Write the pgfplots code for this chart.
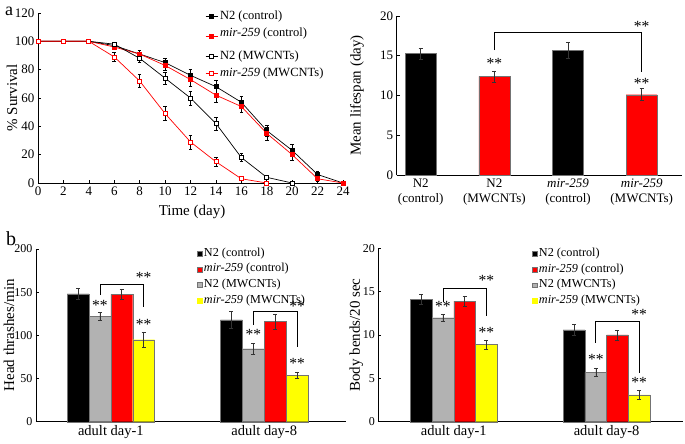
\documentclass[border=0pt]{standalone}
\usepackage{pgfplots}
\pgfplotsset{compat=1.18}
\usepackage{fontspec}
\setmainfont{Liberation Serif}

\definecolor{barred}{RGB}{255,0,0}
\definecolor{bargray}{RGB}{178,178,178}
\definecolor{baryel}{RGB}{255,255,0}
\definecolor{sig}{RGB}{70,70,70}

\pgfplotsset{
  panel/.style={
    scale only axis, anchor=south west,
    axis lines*=left, tick align=inside,
    major tick length=3pt,
    axis line style={black, line width=0.6pt},
    tick style={black, line width=0.6pt},
    ticklabel style={font=\fontsize{13}{13}\selectfont},
    /pgf/number format/assume math mode=true,
    label style={font=\fontsize{15}{15}\selectfont},
    clip=false,
  },
  surv/.style={line width=0.7pt, mark=square*, mark size=2pt,
    error bars/y dir=both, error bars/y explicit,
    error bars/error bar style={black, line width=0.5pt},
    error bars/error mark options={rotate=90, mark size=1.8pt, black, line width=0.5pt}},
  bar/.style={ybar, bar shift=0pt, draw=black!55, line width=0.3pt, forget plot,
    error bars/y dir=both, error bars/y explicit,
    error bars/error bar style={black!80, line width=0.5pt},
    error bars/error mark options={rotate=90, mark size=2pt, black!80, line width=0.5pt}},
  sqlegend/.style={
    legend image code/.code={\draw[##1] (0pt,-2.4pt) rectangle (4.8pt,2.4pt);},
    legend style={draw=none, fill=none, inner sep=0pt,
      font=\fontsize{12.2}{12.2}\selectfont, row sep=0pt,
      nodes={text height=8.3pt, text depth=3.3pt},
      /tikz/every even column/.append style={column sep=2pt}},
    legend cell align=left},
  linelegend/.style={
    legend image code/.code={\draw[mark repeat=2, mark phase=2, ##1]
      plot coordinates {(0pt,0pt) (6pt,0pt) (12pt,0pt)};}},
}
\tikzset{sig/.append style={inner sep=0.5pt}}
\newcommand{\stars}{\fontsize{15.5}{15.5}\selectfont **}

\begin{document}
\begin{tikzpicture}[x=1pt,y=1pt]
\path[use as bounding box] (0,0) rectangle (685,444);

\node[font=\fontsize{18}{18}\selectfont, anchor=center] at (9,433) {a};
\node[font=\fontsize{20}{20}\selectfont, anchor=center] at (11,205) {b};

% ---------- a: survival ----------
\begin{axis}[panel, linelegend, at={(38pt,261pt)}, width=305pt, height=170pt,
  xmin=0, xmax=24, ymin=0, ymax=120,
  xtick={0,2,...,24}, ytick={0,20,...,120},
  xlabel={Time (day)}, ylabel={\% Survival},
  ylabel style={at={(axis description cs:-0.085,0.5)}, anchor=center},
  xlabel style={at={(axis description cs:0.505,-0.17)}, anchor=center},
  legend style={at={(0.548,1.03)}, anchor=north west, draw=none, fill=none,
    inner sep=0pt, font=\fontsize{12.5}{12.5}\selectfont, row sep=0pt,
    nodes={text height=9.4pt, text depth=3.8pt},
    /tikz/every even column/.append style={column sep=3pt}},
  legend cell align=left,
]
\addplot[surv, black, mark options={fill=black}] coordinates {
 (0,100) +- (0,0) (2,100) +- (0,0) (4,100) +- (0,0) (6,97) +- (0,1.5)
 (8,91) +- (0,2.5) (10,85) +- (0,3) (12,76) +- (0,4) (14,68) +- (0,4.5)
 (16,57) +- (0,4) (18,37) +- (0,4) (20,23) +- (0,4) (22,6) +- (0,2) (24,0) +- (0,0)};
\addlegendentry{N2 (control)}
\addplot[surv, barred, mark options={fill=barred}] coordinates {
 (0,100) +- (0,0) (2,100) +- (0,0) (4,100) +- (0,0) (6,96) +- (0,1.5)
 (8,91) +- (0,2.5) (10,83) +- (0,3.5) (12,73) +- (0,4.5) (14,62) +- (0,5)
 (16,54) +- (0,4) (18,35) +- (0,4.5) (20,20) +- (0,4) (22,3) +- (0,1.5) (24,0) +- (0,0)};
\addlegendentry[text depth=9pt]{\textit{mir-259} (control)}
\addplot[surv, black, mark options={fill=white}] coordinates {
 (0,100) +- (0,0) (2,100) +- (0,0) (4,100) +- (0,0) (6,98) +- (0,1)
 (8,88) +- (0,2.5) (10,74) +- (0,4.5) (12,60) +- (0,5) (14,42) +- (0,4.5)
 (16,18) +- (0,3) (18,4) +- (0,1) (20,0) +- (0,0)};
\addlegendentry{N2 (MWCNTs)}
\addplot[surv, barred, mark options={fill=white}] coordinates {
 (0,100) +- (0,0) (2,100) +- (0,0) (4,100) +- (0,0) (6,89) +- (0,3)
 (8,72) +- (0,4.5) (10,49) +- (0,5) (12,29) +- (0,5) (14,15) +- (0,3.5)
 (16,3) +- (0,1) (18,0) +- (0,0)};
\addlegendentry{\textit{mir-259} (MWCNTs)}
\end{axis}

% ---------- a: mean lifespan ----------
\begin{axis}[panel, at={(396.7pt,269pt)}, width=285pt, height=159pt,
  xmin=0.674, xmax=4.543, ymin=0, ymax=20,
  ytick={0,5,...,20}, xtick={1,2,3,4},
  xticklabels={{N2\\(control)},{N2\\(MWCNTs)},{\textit{mir-259}\\(control)},{\textit{mir-259}\\(MWCNTs)}},
  xticklabel style={align=center, font=\fontsize{13}{15}\selectfont},
  xtick style={draw=none},
  ylabel={Mean lifespan (day)},
  ylabel style={at={(axis description cs:-0.139,0.5)}, anchor=center},
]
\addplot[bar, bar width=31pt, fill=black] coordinates {(1,15.3) +- (0,0.7) (3,15.7) +- (0,1.0)};
\addplot[bar, bar width=31pt, fill=barred] coordinates {(2,12.4) +- (0,0.7) (4,10.1) +- (0,0.75)};
\node[sig] at (axis cs:2,14.0) {\stars};
\node[sig] at (axis cs:4,11.5) {\stars};
\draw[sig, line width=0.7pt] (axis cs:2,15.7) -- (axis cs:2,17.9) -- (axis cs:4,17.9) -- (axis cs:4,13.0);
\node[sig] at (axis cs:4,18.7) {\stars};
\end{axis}

% ---------- b: head thrashes ----------
\begin{axis}[panel, sqlegend, at={(36pt,22.3pt)}, width=310pt, height=172.7pt,
  xmin=0.512, xmax=2.533, ymin=0, ymax=200,
  ytick={0,50,...,200}, xtick={1,2},
  ticklabel style={font=\fontsize{12}{12}\selectfont},
  xticklabels={adult day-1, adult day-8},
  xticklabel style={font=\fontsize{14.5}{14.5}\selectfont},
  xtick style={draw=none},
  ylabel={Head thrashes/min},
  ylabel style={at={(axis description cs:-0.087,0.5)}, anchor=center},
  legend style={at={(0.518,1.018)}, anchor=north west},
]
\addplot[bar, bar width=21.9pt, fill=black] coordinates {(0.786,148) +- (0,6) (1.786,118) +- (0,9.5)};
\addplot[bar, bar width=21.9pt, fill=barred] coordinates {(1.071,147.5) +- (0,5.5) (2.071,116) +- (0,9)};
\addplot[bar, bar width=21.9pt, fill=bargray] coordinates {(0.929,122) +- (0,4.5) (1.929,84.5) +- (0,6)};
\addplot[bar, bar width=21.9pt, fill=baryel] coordinates {(1.214,95) +- (0,9) (2.214,54) +- (0,3.8)};
\addlegendimage{fill=black, draw=black!55}\addlegendentry{N2 (control)}
\addlegendimage{fill=barred, draw=black!55}\addlegendentry{\textit{mir-259} (control)}
\addlegendimage{fill=bargray, draw=black!55}\addlegendentry{N2 (MWCNTs)}
\addlegendimage{fill=baryel, draw=baryel}\addlegendentry{\textit{mir-259} (MWCNTs)}
\node[sig] at (axis cs:0.929,135) {\stars};
\node[sig] at (axis cs:1.214,113) {\stars};
\draw[sig, line width=0.7pt] (axis cs:0.929,146.7) -- (axis cs:0.929,159.5) -- (axis cs:1.214,159.5) -- (axis cs:1.214,133.2);
\node[sig] at (axis cs:1.214,167) {\stars};
\node[sig] at (axis cs:1.929,101) {\stars};
\node[sig] at (axis cs:2.214,67) {\stars};
\draw[sig, line width=0.7pt] (axis cs:1.929,112) -- (axis cs:1.929,128) -- (axis cs:2.214,128) -- (axis cs:2.214,86.9);
\node[sig] at (axis cs:2.214,133.5) {\stars};
\end{axis}

% ---------- b: body bends ----------
\begin{axis}[panel, sqlegend, at={(378.3pt,22.3pt)}, width=304.7pt, height=173.4pt,
  xmin=0.506, xmax=2.5, ymin=0, ymax=20,
  ytick={0,5,...,20}, xtick={1,2},
  ticklabel style={font=\fontsize{12}{12}\selectfont},
  xticklabels={adult day-1, adult day-8},
  xticklabel style={font=\fontsize{14.5}{14.5}\selectfont},
  xtick style={draw=none},
  ylabel={Body bends/20 sec},
  ylabel style={at={(axis description cs:-0.072,0.5)}, anchor=center},
  legend style={at={(0.503,1.013)}, anchor=north west},
]
\addplot[bar, bar width=21.7pt, fill=black] coordinates {(0.787,14.1) +- (0,0.6) (1.787,10.6) +- (0,0.6)};
\addplot[bar, bar width=21.7pt, fill=barred] coordinates {(1.071,13.9) +- (0,0.6) (2.071,10.0) +- (0,0.55)};
\addplot[bar, bar width=21.7pt, fill=bargray] coordinates {(0.929,12.0) +- (0,0.45) (1.929,5.7) +- (0,0.5)};
\addplot[bar, bar width=21.7pt, fill=baryel] coordinates {(1.213,8.9) +- (0,0.5) (2.213,3.1) +- (0,0.5)};
\addlegendimage{fill=black, draw=black!55}\addlegendentry{N2 (control)}
\addlegendimage{fill=barred, draw=black!55}\addlegendentry{\textit{mir-259} (control)}
\addlegendimage{fill=bargray, draw=black!55}\addlegendentry{N2 (MWCNTs)}
\addlegendimage{fill=baryel, draw=baryel}\addlegendentry{\textit{mir-259} (MWCNTs)}
\node[sig] at (axis cs:0.929,13.3) {\stars};
\node[sig] at (axis cs:1.213,10.3) {\stars};
\draw[sig, line width=0.7pt] (axis cs:0.929,13.85) -- (axis cs:0.929,15.4) -- (axis cs:1.213,15.4) -- (axis cs:1.213,12.2);
\node[sig] at (axis cs:1.213,16.3) {\stars};
\node[sig] at (axis cs:1.929,7.2) {\stars};
\node[sig] at (axis cs:2.213,4.5) {\stars};
\draw[sig, line width=0.7pt] (axis cs:1.929,9.1) -- (axis cs:1.929,11.6) -- (axis cs:2.213,11.6) -- (axis cs:2.213,5.6);
\node[sig] at (axis cs:2.213,12.4) {\stars};
\end{axis}
\end{tikzpicture}
\end{document}
